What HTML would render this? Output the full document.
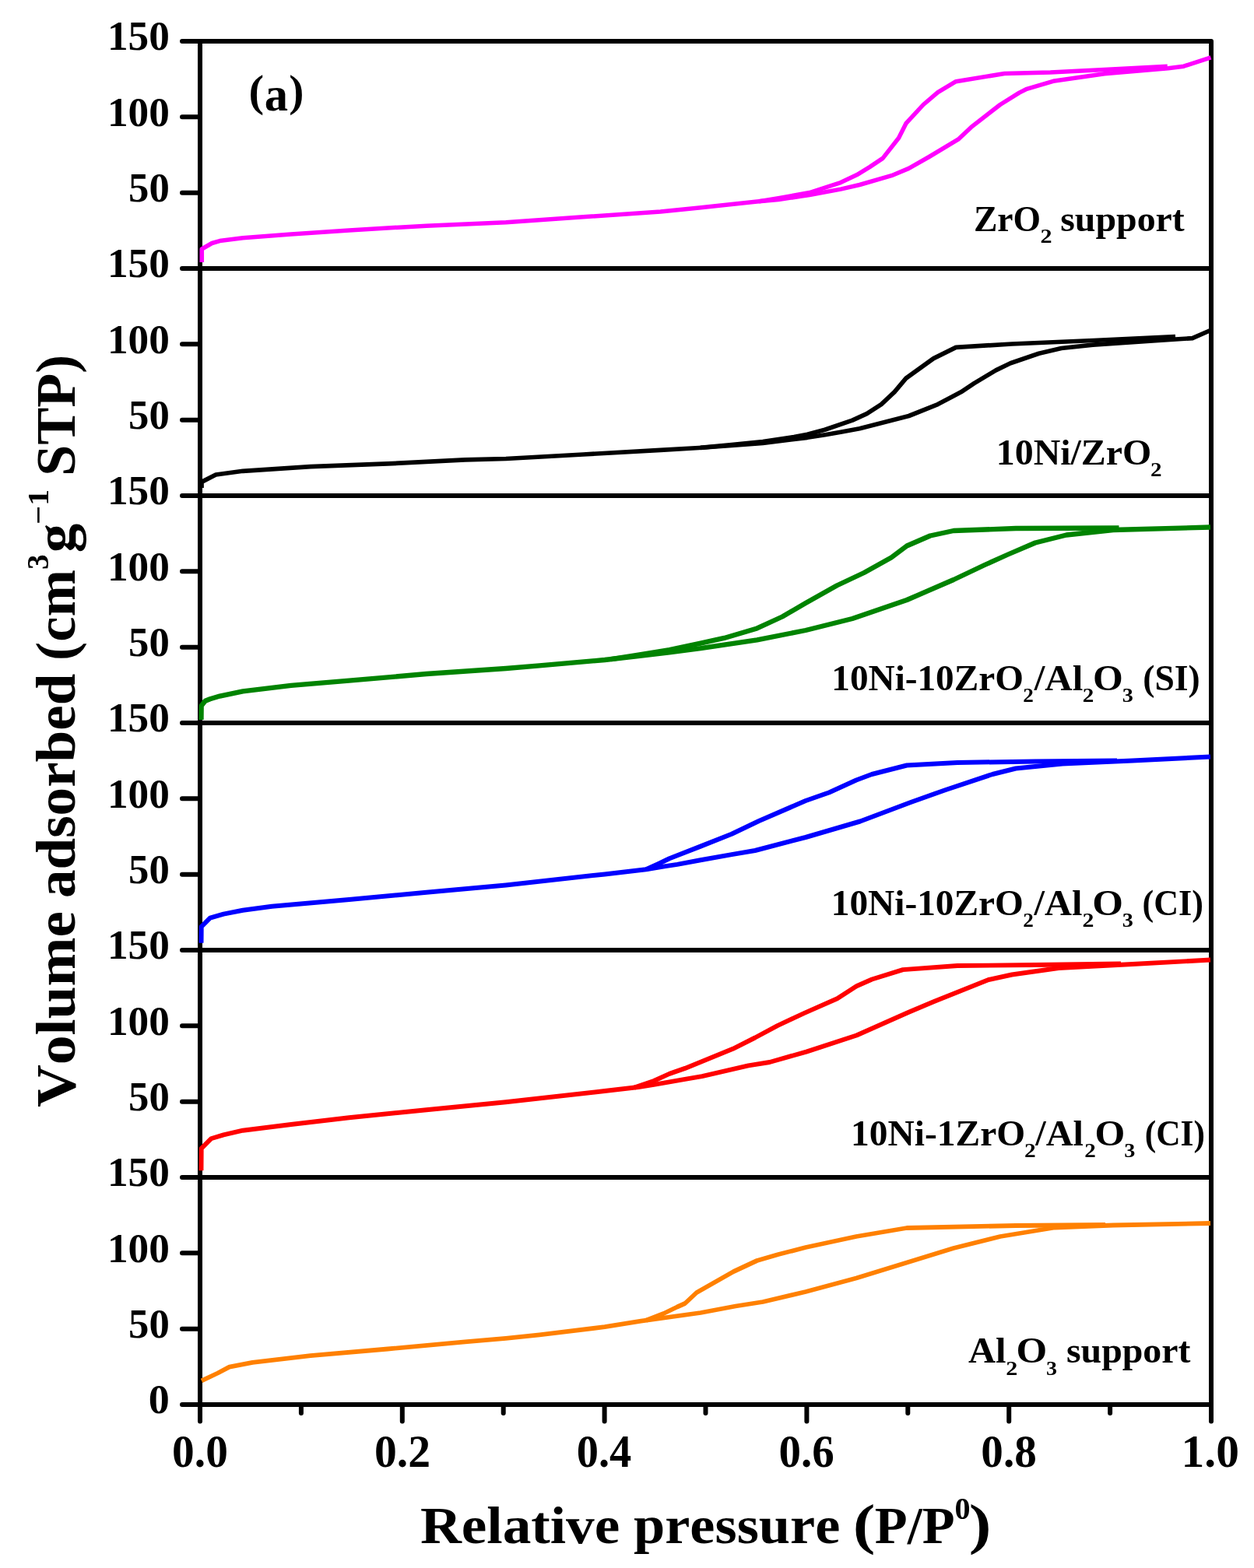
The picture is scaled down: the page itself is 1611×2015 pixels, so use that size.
<!DOCTYPE html>
<html><head><meta charset="utf-8"><title>Isotherms</title><style>
html,body{margin:0;padding:0;background:#fff;}
svg{display:block;}
text{font-family:"Liberation Serif","Times New Roman",serif;font-weight:bold;fill:#000;font-kerning:none;}
</style></head><body>
<svg width="1611" height="2015" viewBox="0 0 1611 2015">
<rect width="1611" height="2015" fill="#fff"/>
<path d="M257.0 53.0V1826.5M1556.0 53.0V1826.5M234 53.0H1556.0M234 345.0H1556.0M234 637.0H1556.0M234 929.0H1556.0M234 1221.0H1556.0M234 1513.0H1556.0M234 1805.0H1556.0M234 150.3H257.0M234 247.7H257.0M234 442.3H257.0M234 539.7H257.0M234 734.3H257.0M234 831.7H257.0M234 1026.3H257.0M234 1123.7H257.0M234 1318.3H257.0M234 1415.7H257.0M234 1610.3H257.0M234 1707.7H257.0M257.0 1805.0V1826.5M386.9 1805.0V1816.0M516.8 1805.0V1826.5M646.7 1805.0V1816.0M776.6 1805.0V1826.5M906.5 1805.0V1816.0M1036.4 1805.0V1826.5M1166.3 1805.0V1816.0M1296.2 1805.0V1826.5M1426.1 1805.0V1816.0M1556.0 1805.0V1826.5" fill="none" stroke="#000" stroke-width="6.0" stroke-linecap="round" stroke-linejoin="round"/>
<g fill="none" stroke-width="5.7" stroke-linejoin="round" stroke-linecap="butt">
<polyline stroke="#ff00ff" stroke-width="5.5" points="259.3,337.0 259.3,320.0 272.3,312.5 282.3,309.6 312.0,305.8 374.0,300.9 448.5,295.9 547.8,290.2 650.0,285.8 749.3,278.8 848.5,272.1 898.1,267.1 972.6,259.0 1000.0,256.5 1040.0,250.5 1080.0,243.1 1104.3,237.5 1145.3,225.7 1167.6,216.4 1193.7,201.5 1230.9,179.2 1247.7,163.4 1284.9,134.5 1309.5,119.1 1318.2,114.7 1353.0,104.3 1419.0,94.8 1500.7,87.8 1520.7,85.2 1555.5,73.9"/>
<polyline stroke="#ff00ff" stroke-width="5.5" points="1499.8,85.2 1419.0,89.5 1349.5,93.0 1290.5,94.5 1228.1,104.7 1204.8,118.7 1186.2,134.5 1163.9,158.7 1154.6,177.3 1134.1,203.4 1117.3,214.6 1100.6,224.8 1080.0,234.6 1040.0,247.5 1000.0,254.8 975.0,258.8"/>
<polyline stroke="#000000" stroke-width="5.7" points="259.0,627.0 259.0,619.4 277.3,610.0 312.0,605.3 398.9,599.6 498.1,595.9 597.4,590.9 650.0,589.5 749.3,584.0 848.5,578.3 898.1,575.5 940.0,572.5 980.0,569.3 1020.0,564.5 1037.2,562.3 1060.0,558.7 1080.0,555.3 1104.3,550.8 1167.6,534.5 1204.8,519.6 1234.6,503.8 1251.4,492.6 1279.3,475.9 1298.1,466.8 1334.7,454.3 1363.5,447.5 1404.0,443.1 1480.9,437.9 1531.9,434.6 1555.0,424.5"/>
<polyline stroke="#000000" stroke-width="5.7" points="1510.0,432.5 1405.0,437.5 1300.0,442.0 1228.1,446.4 1199.3,460.6 1163.9,486.1 1149.0,503.8 1132.2,519.6 1113.6,531.7 1095.0,540.1 1059.6,552.3 1037.2,558.3 1020.0,561.5 980.0,567.5 940.0,571.5 900.0,575.4"/>
<polyline stroke="#008300" stroke-width="6.3" points="258.5,925.0 258.7,907.0 263.6,900.8 269.9,898.3 282.3,894.6 312.0,888.3 374.0,880.9 448.5,874.7 547.8,866.0 650.0,859.0 693.1,855.4 776.9,848.0 820.0,843.1 860.0,838.3 900.0,833.2 972.6,822.3 1035.0,810.0 1095.0,795.0 1165.0,771.0 1225.0,745.0 1265.0,726.0 1295.0,712.5 1330.0,697.5 1370.0,687.5 1430.0,681.0 1555.0,677.5"/>
<polyline stroke="#008300" stroke-width="6.3" points="1437.5,678.5 1305.0,679.0 1225.0,682.0 1195.0,688.5 1165.0,701.5 1145.0,716.5 1110.0,736.0 1075.0,752.5 1035.0,775.0 1005.0,792.5 972.6,807.4 930.4,819.9 900.0,826.6 860.0,835.0 820.0,841.5 785.0,847.1"/>
<polyline stroke="#0000ff" stroke-width="6.0" points="258.5,1211.8 258.7,1190.8 269.9,1179.6 287.2,1174.6 312.0,1169.7 349.3,1164.7 448.5,1156.0 547.8,1146.8 649.8,1137.4 776.9,1123.4 830.0,1117.3 855.0,1113.1 870.0,1110.9 900.0,1105.3 940.0,1098.1 970.0,1093.0 1035.0,1076.0 1105.0,1055.5 1170.0,1031.0 1215.0,1015.0 1275.0,995.0 1305.0,987.5 1365.0,981.5 1455.0,977.5 1555.0,972.5"/>
<polyline stroke="#0000ff" stroke-width="6.0" points="1435.0,977.5 1330.0,978.5 1230.0,980.0 1165.0,983.5 1120.0,995.0 1100.0,1002.5 1065.0,1018.5 1035.0,1029.0 975.0,1055.0 940.0,1071.8 900.0,1087.6 860.0,1103.3 845.0,1110.5 830.0,1117.3"/>
<polyline stroke="#ff0000" stroke-width="5.9" points="258.5,1504.3 258.7,1475.8 271.1,1463.3 287.2,1458.4 312.0,1452.7 374.0,1445.0 448.5,1436.3 547.8,1426.2 649.8,1416.2 776.9,1402.0 820.0,1397.0 840.0,1393.8 860.0,1390.3 880.0,1386.8 901.9,1383.2 961.4,1369.4 988.7,1365.0 1035.9,1351.6 1100.4,1330.5 1167.4,1300.7 1200.0,1287.0 1270.0,1259.0 1300.0,1252.5 1360.0,1244.0 1455.0,1239.0 1555.0,1233.5"/>
<polyline stroke="#ff0000" stroke-width="5.9" points="1440.0,1238.5 1330.0,1240.0 1230.0,1241.0 1160.0,1246.1 1120.2,1258.5 1100.4,1267.2 1075.6,1283.3 1033.4,1301.9 998.7,1318.1 970.0,1333.5 941.6,1347.8 880.0,1372.9 860.0,1379.9 840.0,1389.0 815.0,1397.6"/>
<polyline stroke="#ff8000" stroke-width="5.8" points="259.0,1774.4 279.8,1764.5 294.7,1756.6 324.4,1750.9 398.9,1742.2 498.1,1733.5 597.4,1724.3 649.8,1719.8 693.1,1715.4 776.9,1705.2 823.5,1697.7 900.0,1687.0 945.0,1678.5 980.0,1673.0 1035.0,1660.0 1100.0,1642.5 1165.0,1622.5 1225.0,1604.0 1285.0,1589.0 1355.0,1577.5 1430.0,1574.5 1555.0,1572.0"/>
<polyline stroke="#ff8000" stroke-width="5.8" points="1420.0,1574.0 1305.0,1575.0 1165.0,1578.0 1100.0,1589.0 1035.0,1603.0 1000.0,1612.0 972.5,1620.0 942.5,1634.0 895.0,1661.0 880.0,1675.0 870.0,1679.5 852.5,1688.0 830.0,1696.8"/>
</g>
<text x="137.93" y="64.30" font-size="52.0" textLength="79.89" lengthAdjust="spacingAndGlyphs">150</text>
<text x="137.93" y="161.63" font-size="52.0" textLength="79.89" lengthAdjust="spacingAndGlyphs">100</text>
<text x="165.09" y="258.97" font-size="52.0" textLength="52.72" lengthAdjust="spacingAndGlyphs">50</text>
<text x="137.93" y="356.30" font-size="52.0" textLength="79.89" lengthAdjust="spacingAndGlyphs">150</text>
<text x="137.93" y="453.63" font-size="52.0" textLength="79.89" lengthAdjust="spacingAndGlyphs">100</text>
<text x="165.09" y="550.97" font-size="52.0" textLength="52.72" lengthAdjust="spacingAndGlyphs">50</text>
<text x="137.93" y="648.30" font-size="52.0" textLength="79.89" lengthAdjust="spacingAndGlyphs">150</text>
<text x="137.93" y="745.63" font-size="52.0" textLength="79.89" lengthAdjust="spacingAndGlyphs">100</text>
<text x="165.09" y="842.97" font-size="52.0" textLength="52.72" lengthAdjust="spacingAndGlyphs">50</text>
<text x="137.93" y="940.30" font-size="52.0" textLength="79.89" lengthAdjust="spacingAndGlyphs">150</text>
<text x="137.93" y="1037.63" font-size="52.0" textLength="79.89" lengthAdjust="spacingAndGlyphs">100</text>
<text x="165.09" y="1134.97" font-size="52.0" textLength="52.72" lengthAdjust="spacingAndGlyphs">50</text>
<text x="137.93" y="1232.30" font-size="52.0" textLength="79.89" lengthAdjust="spacingAndGlyphs">150</text>
<text x="137.93" y="1329.63" font-size="52.0" textLength="79.89" lengthAdjust="spacingAndGlyphs">100</text>
<text x="165.09" y="1426.97" font-size="52.0" textLength="52.72" lengthAdjust="spacingAndGlyphs">50</text>
<text x="137.93" y="1524.30" font-size="52.0" textLength="79.89" lengthAdjust="spacingAndGlyphs">150</text>
<text x="137.93" y="1621.63" font-size="52.0" textLength="79.89" lengthAdjust="spacingAndGlyphs">100</text>
<text x="165.09" y="1718.97" font-size="52.0" textLength="52.72" lengthAdjust="spacingAndGlyphs">50</text>
<text x="190.84" y="1816.30" font-size="52.0" textLength="27.02" lengthAdjust="spacingAndGlyphs">0</text>
<text x="221.11" y="1884.60" font-size="58.4" textLength="71.77" lengthAdjust="spacingAndGlyphs">0.0</text>
<text x="480.90" y="1884.60" font-size="58.4" textLength="72.07" lengthAdjust="spacingAndGlyphs">0.2</text>
<text x="740.75" y="1884.60" font-size="58.4" textLength="70.60" lengthAdjust="spacingAndGlyphs">0.4</text>
<text x="1000.53" y="1884.60" font-size="58.4" textLength="71.24" lengthAdjust="spacingAndGlyphs">0.6</text>
<text x="1260.32" y="1884.60" font-size="58.4" textLength="71.48" lengthAdjust="spacingAndGlyphs">0.8</text>
<text x="1517.53" y="1884.60" font-size="58.4" textLength="74.44" lengthAdjust="spacingAndGlyphs">1.0</text>
<text x="319.42" y="136.30" font-size="58.0" textLength="19.58" lengthAdjust="spacingAndGlyphs">(</text>
<text x="339.85" y="141.80" font-size="62.0" textLength="30.27" lengthAdjust="spacingAndGlyphs">a</text>
<text x="371.24" y="136.30" font-size="58.0" textLength="19.19" lengthAdjust="spacingAndGlyphs">)</text>
<text x="1250.92" y="297.10" font-size="46.0" textLength="86.21" lengthAdjust="spacingAndGlyphs">ZrO</text>
<text x="1336.54" y="312.10" font-size="25.0" textLength="15.06" lengthAdjust="spacingAndGlyphs">2</text>
<text x="1362.25" y="297.10" font-size="46.0" textLength="159.46" lengthAdjust="spacingAndGlyphs">support</text>
<text x="1279.76" y="596.80" font-size="46.0" textLength="199.57" lengthAdjust="spacingAndGlyphs">10Ni/ZrO</text>
<text x="1477.98" y="611.80" font-size="25.0" textLength="14.58" lengthAdjust="spacingAndGlyphs">2</text>
<text x="1068.32" y="886.80" font-size="46.0" textLength="246.59" lengthAdjust="spacingAndGlyphs">10Ni-10ZrO</text>
<text x="1314.16" y="901.80" font-size="25.0" textLength="13.61" lengthAdjust="spacingAndGlyphs">2</text>
<text x="1328.68" y="886.80" font-size="46.0" textLength="62.56" lengthAdjust="spacingAndGlyphs">/Al</text>
<text x="1390.78" y="901.80" font-size="25.0" textLength="14.58" lengthAdjust="spacingAndGlyphs">2</text>
<text x="1404.07" y="886.80" font-size="46.0" textLength="38.77" lengthAdjust="spacingAndGlyphs">O</text>
<text x="1441.74" y="901.80" font-size="25.0" textLength="14.13" lengthAdjust="spacingAndGlyphs">3</text>
<text x="1468.30" y="886.80" font-size="46.0" textLength="73.40" lengthAdjust="spacingAndGlyphs">(SI)</text>
<text x="1067.81" y="1175.50" font-size="46.0" textLength="247.10" lengthAdjust="spacingAndGlyphs">10Ni-10ZrO</text>
<text x="1314.16" y="1190.50" font-size="25.0" textLength="13.61" lengthAdjust="spacingAndGlyphs">2</text>
<text x="1328.47" y="1175.50" font-size="46.0" textLength="61.96" lengthAdjust="spacingAndGlyphs">/Al</text>
<text x="1390.45" y="1190.50" font-size="25.0" textLength="14.94" lengthAdjust="spacingAndGlyphs">2</text>
<text x="1403.21" y="1175.50" font-size="46.0" textLength="39.68" lengthAdjust="spacingAndGlyphs">O</text>
<text x="1441.74" y="1190.50" font-size="25.0" textLength="14.13" lengthAdjust="spacingAndGlyphs">3</text>
<text x="1467.56" y="1175.50" font-size="46.0" textLength="78.38" lengthAdjust="spacingAndGlyphs">(CI)</text>
<text x="1093.10" y="1472.10" font-size="46.0" textLength="224.02" lengthAdjust="spacingAndGlyphs">10Ni-1ZrO</text>
<text x="1315.97" y="1487.10" font-size="25.0" textLength="14.70" lengthAdjust="spacingAndGlyphs">2</text>
<text x="1330.37" y="1472.10" font-size="46.0" textLength="61.65" lengthAdjust="spacingAndGlyphs">/Al</text>
<text x="1393.18" y="1487.10" font-size="25.0" textLength="14.58" lengthAdjust="spacingAndGlyphs">2</text>
<text x="1406.47" y="1472.10" font-size="46.0" textLength="38.77" lengthAdjust="spacingAndGlyphs">O</text>
<text x="1444.24" y="1487.10" font-size="25.0" textLength="14.13" lengthAdjust="spacingAndGlyphs">3</text>
<text x="1470.79" y="1472.10" font-size="46.0" textLength="77.22" lengthAdjust="spacingAndGlyphs">(CI)</text>
<text x="1243.93" y="1751.20" font-size="46.0" textLength="48.50" lengthAdjust="spacingAndGlyphs">Al</text>
<text x="1292.24" y="1766.70" font-size="25.0" textLength="15.06" lengthAdjust="spacingAndGlyphs">2</text>
<text x="1305.41" y="1751.20" font-size="46.0" textLength="39.68" lengthAdjust="spacingAndGlyphs">O</text>
<text x="1343.95" y="1766.70" font-size="25.0" textLength="14.01" lengthAdjust="spacingAndGlyphs">3</text>
<text x="1369.95" y="1751.20" font-size="46.0" textLength="159.46" lengthAdjust="spacingAndGlyphs">support</text>
<text x="539.95" y="1982.90" font-size="67.0" textLength="256.35" lengthAdjust="spacingAndGlyphs">Relative</text>
<text x="813.98" y="1982.90" font-size="67.0" textLength="265.39" lengthAdjust="spacingAndGlyphs">pressure</text>
<text x="1095.82" y="1983.00" font-size="72.0" textLength="28.65" lengthAdjust="spacingAndGlyphs">(</text>
<text x="1123.83" y="1982.90" font-size="67.0" textLength="102.81" lengthAdjust="spacingAndGlyphs">P/P</text>
<text x="1226.47" y="1952.00" font-size="40.0" textLength="20.06" lengthAdjust="spacingAndGlyphs">0</text>
<text x="1244.71" y="1983.00" font-size="72.0" textLength="28.78" lengthAdjust="spacingAndGlyphs">)</text>
<g transform="rotate(-90)"><text x="-1422.85" y="95.60" font-size="72.5" textLength="251.80" lengthAdjust="spacingAndGlyphs">Volume</text><text x="-1154.06" y="95.60" font-size="72.5" textLength="288.38" lengthAdjust="spacingAndGlyphs">adsorbed</text><text x="-848.99" y="95.60" font-size="72.5" textLength="116.93" lengthAdjust="spacingAndGlyphs">(cm</text><text x="-732.07" y="62.20" font-size="40.0" textLength="19.50" lengthAdjust="spacingAndGlyphs">3</text><text x="-710.27" y="95.60" font-size="72.5" textLength="37.40" lengthAdjust="spacingAndGlyphs">g</text><text x="-674.14" y="61.50" font-size="38.0" textLength="45.44" lengthAdjust="spacingAndGlyphs">−1</text><text x="-611.83" y="95.60" font-size="72.5" textLength="156.10" lengthAdjust="spacingAndGlyphs">STP)</text></g>
</svg>
</body></html>
